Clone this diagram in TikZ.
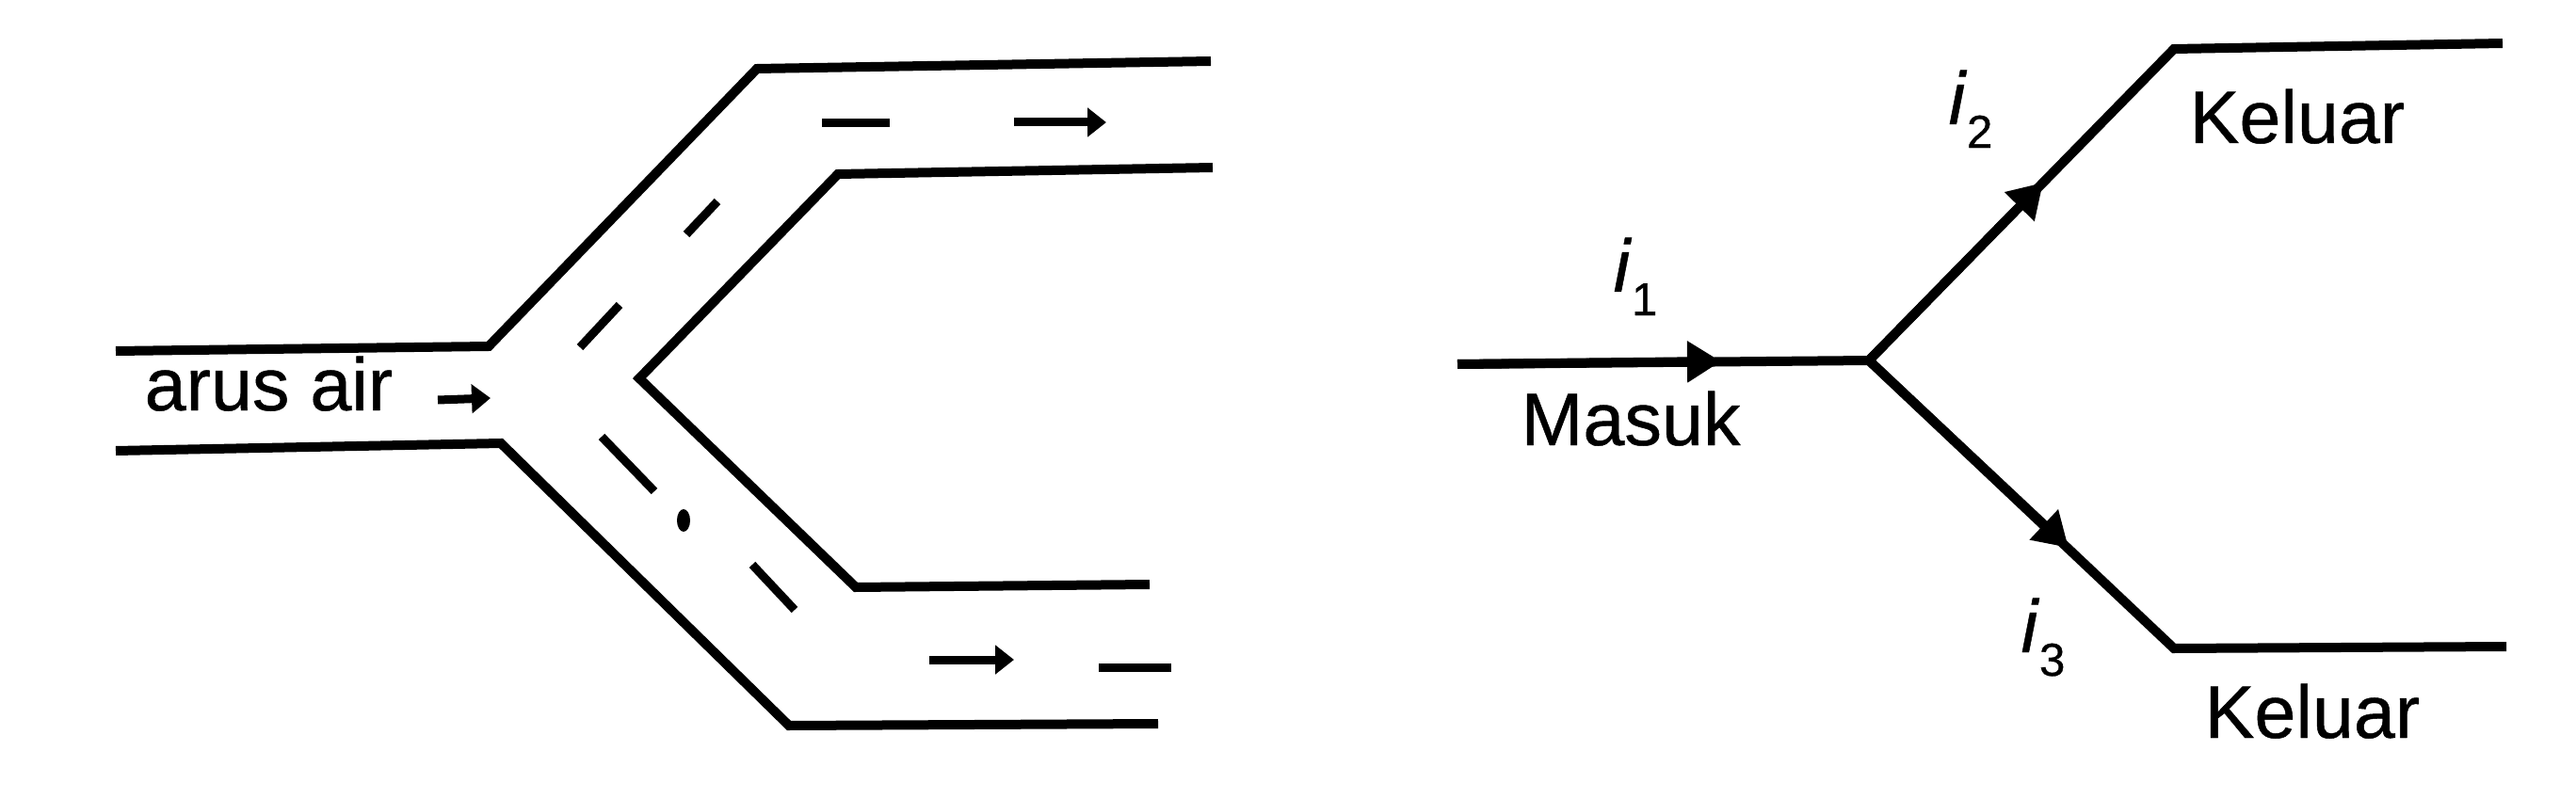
\documentclass[tikz,border=0pt]{standalone}
\usepackage{fontspec}
\setmainfont[RawFeature={embolden=0.6}]{Liberation Sans}
\usetikzlibrary{arrows.meta,positioning,calc}
\newcommand{\curlabel}[1]{\textit{i}\raisebox{-0.6ex}{\fontsize{14}{14}\selectfont #1}}

\begin{document}
\begin{tikzpicture}[>=Latex]
  \tikzstyle{pipe}=[line width=0.1cm,line join=miter]
  \tikzstyle{dashmark}=[line width=0.09cm]
  \tikzstyle{flow}=[line width=0.09cm,-{Triangle[length=0.2cm,width=0.3cm]}]
  \tikzstyle{wire}=[line width=0.1cm,line join=miter]
  \tikzstyle{wiretip}=[line width=0.1cm,-{Triangle[length=0.36cm,width=0.42cm]}]
  \tikzstyle{lab}=[anchor=base,inner sep=0pt,font=\fontsize{22.5}{23}\selectfont]
  \useasboundingbox (0,0) rectangle (27.36,8.48);
  % pipe walls
  \draw[pipe] (12.86,7.83) -- (8.04,7.75) -- (5.19,4.80) -- (1.23,4.75);
  \draw[pipe] (12.88,6.70) -- (8.90,6.63) -- (6.79,4.46) -- (9.09,2.24) -- (12.21,2.27);
  \draw[pipe] (1.23,3.69) -- (5.32,3.77) -- (8.38,0.77) -- (12.30,0.79);
  % dashes in the water
  \draw[dashmark] (8.73,7.17) -- (9.45,7.17);
  \draw[dashmark] (7.62,6.34) -- (7.29,5.99);
  \draw[dashmark] (6.58,5.24) -- (6.16,4.79);
  \draw[dashmark] (6.39,3.84) -- (6.95,3.26);
  \draw[dashmark] (7.99,2.48) -- (8.44,2.00);
  \draw[dashmark] (11.67,1.39) -- (12.44,1.39);
  \fill (7.26,2.95) ellipse (0.07cm and 0.12cm);
  \draw[flow] (10.77,7.18) -- (11.75,7.18);
  \draw[flow] (9.87,1.47) -- (10.77,1.47);
  \draw[flow] (4.65,4.23) -- (5.21,4.25);
  \node[lab] (air) at (2.855,4.12) {arus air};
  % branch
  \coordinate (in) at (15.48,4.61);
  \coordinate (joint) at (19.85,4.65);
  \coordinate (topbend) at (23.09,7.96);
  \coordinate (topend) at (26.58,8.02);
  \coordinate (lowbend) at (23.09,1.59);
  \coordinate (lowend) at (26.62,1.61);
  \coordinate (tipa) at (18.28,4.64);
  \coordinate (tipb) at (21.70,6.54);
  \coordinate (tipc) at (21.97,2.66);
  \draw[wire] (in) -- (joint) -- (topbend) -- (topend);
  \draw[wire] (joint) -- (lowbend) -- (lowend);
  \draw[wiretip] (in) -- (tipa);
  \draw[wiretip] (joint) -- (tipb);
  \draw[wiretip] (joint) -- (tipc);
  \node[lab] (masuk) at (17.32,3.75) {Masuk};
  \node[lab] (keluara) at (24.40,6.96) {Keluar};
  \node[lab] (keluarb) at (24.56,0.64) {Keluar};
  \node[lab] (ia) at (17.37,5.38) {\curlabel{1}};
  \node[lab] (ib) at (20.93,7.16) {\curlabel{2}};
  \node[lab] (ic) at (21.70,1.55) {\curlabel{3}};
\end{tikzpicture}
\end{document}
